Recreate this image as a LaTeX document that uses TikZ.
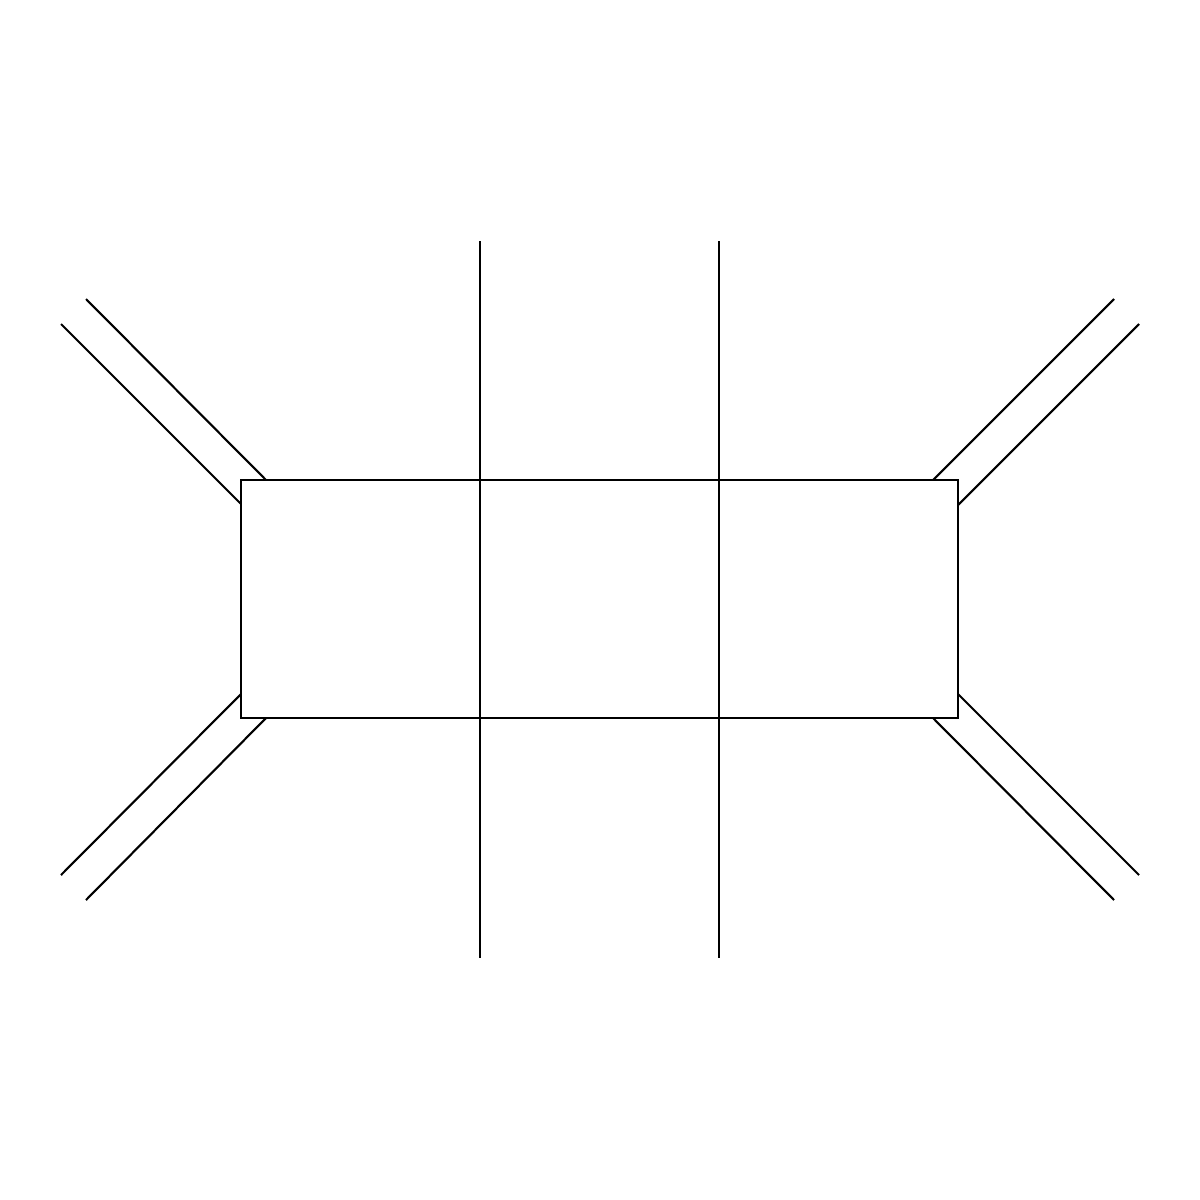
\documentclass[tikz,border=0pt]{standalone}
\begin{document}
\begin{tikzpicture}[x=0.01cm,y=-0.01cm,line width=0.6pt,
  edge/.style={draw=black,line width=0.6pt}]
\useasboundingbox (0,0) rectangle (1200,1200);
% box
\coordinate (TL) at (241,480);
\coordinate (BR) at (958,718);
\draw[edge] (TL) rectangle (BR);
% vertical lines
\coordinate (v1t) at (480,241); \coordinate (v1b) at (480,958);
\coordinate (v2t) at (719,241); \coordinate (v2b) at (719,958);
\draw[edge] (v1t) -- (v1b);
\draw[edge] (v2t) -- (v2b);
% top-left pair
\coordinate (a1) at (61,324); \coordinate (a2) at (241,504);
\coordinate (b1) at (86,299); \coordinate (b2) at (266,480);
\draw[edge] (a1) -- (a2);
\draw[edge] (b1) -- (b2);
% top-right pair
\coordinate (c1) at (1139,324); \coordinate (c2) at (958,505);
\coordinate (d1) at (1114,299); \coordinate (d2) at (933,480);
\draw[edge] (c1) -- (c2);
\draw[edge] (d1) -- (d2);
% bottom-left pair
\coordinate (e1) at (61,875); \coordinate (e2) at (241,694);
\coordinate (f1) at (86,900); \coordinate (f2) at (266,718);
\draw[edge] (e1) -- (e2);
\draw[edge] (f1) -- (f2);
% bottom-right pair
\coordinate (g1) at (1139,875); \coordinate (g2) at (958,694);
\coordinate (h1) at (1114,900); \coordinate (h2) at (933,718);
\draw[edge] (g1) -- (g2);
\draw[edge] (h1) -- (h2);
\end{tikzpicture}
\end{document}
